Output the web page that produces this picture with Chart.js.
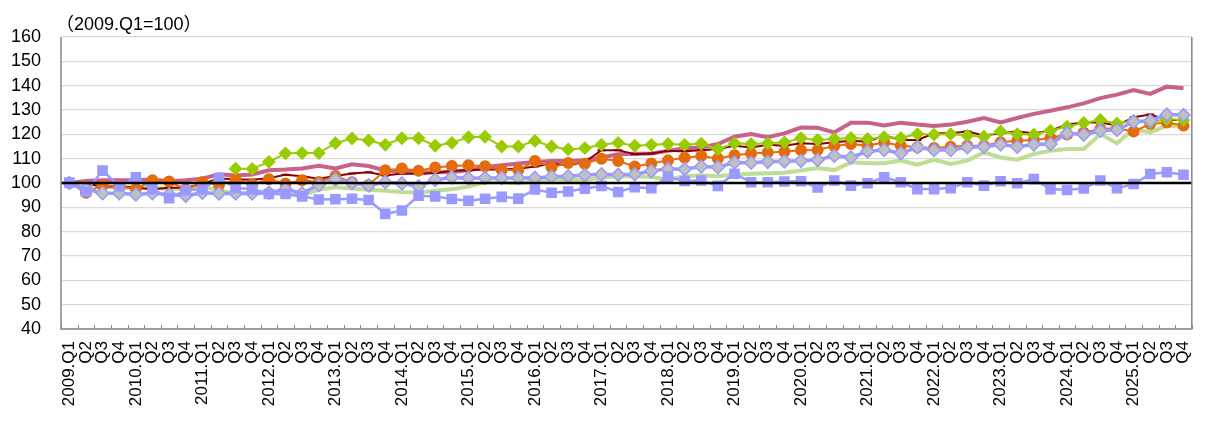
<!DOCTYPE html>
<html>
<head>
<meta charset="utf-8">
<script src="https://cdn.jsdelivr.net/npm/chart.js@4/dist/chart.umd.min.js"></script>
<style>
  body { margin: 0; background: #fff; }
  #wrap { position: relative; width: 1216px; height: 424px; }
  #note { position: absolute; left: 56px; top: 9px; font: 18px "Liberation Sans", "Noto Sans CJK JP", sans-serif; color: #000; }
</style>
</head>
<body>
<div id="wrap">
  <div id="note">（2009.Q1=100）</div>
  <canvas id="chart" width="1216" height="424"></canvas>
</div>
<script>
// 四半期ラベル
const years = ['2009', '2010', '2011', '2012', '2013', '2014', '2015', '2016', '2017', '2018', '2019', '2020', '2021', '2022', '2023', '2024', '2025'];
const quarters = ['Q1', 'Q2', 'Q3', 'Q4'];
const labels = [];
years.forEach(y => quarters.forEach(q => labels.push(q === 'Q1' ? y + '.' + q : q)));

const yTicks = { min: 40, max: 160, step: 10 };
const baseValue = 100;

// 系列データ (2009.Q1 = 100)
const pinkLine = [
  100, 100.8, 101.1, 101.1, 101.1, 101.4, 100.7, 101.1, 101.8, 103.6, 103.1, 103.5,
  105.2, 105.5, 106, 107.1, 106, 107.7, 107, 105.1, 104.7, 104.4, 104.4, 104.5,
  105.2, 106.6, 107.3, 108, 108.6, 109, 109, 109.4, 110.5, 111.8, 112, 112.1,
  113.2, 114.3, 114.6, 116, 119, 120.1, 118.8, 120.4, 122.8, 122.7, 120.8, 124.8,
  124.8, 123.6, 124.8, 124, 123.4, 124, 125.2, 126.7, 124.9, 126.7, 128.4, 129.7,
  131.1, 132.7, 134.9, 136.3, 138.2, 136.6, 139.6, 138.9
];
const greenDiamond = [
  null, null, null, null, null, null, null, null, null, null, 105.9, 105.8,
  108.7, 112.2, 112.3, 112.3, 116.4, 118.3, 117.5, 115.7, 118.4, 118.4, 115.3, 116.5,
  118.8, 119, 115, 115, 117.3, 115, 113.8, 114.3, 115.7, 116.5, 115.3, 115.7,
  116, 115.7, 116.2, 113.9, 116.3, 116, 116.3, 116.7, 118.4, 117.7, 118.1, 118.5,
  118.1, 118.8, 118.5, 120.1, 119.9, 120.1, 119.5, 119, 121.2, 120.1, 119.9, 121.5,
  123.2, 124.7, 125.9, 124.5, 125.6, 124.9, 126.3, 125.9
];
const orangeCircle = [
  100, 96, 99, 98.7, 97.5, 101.1, 100.6, 97.3, 100.4, 99.2, 101.3, 99.5,
  101.5, 99.8, 101.1, 100.4, 102.9, 100.3, 99.2, 105.2, 106, 105, 106.4, 107,
  107.3, 106.9, 105.3, 105.3, 109, 106.5, 108.2, 107.9, 110, 109, 106.8, 108,
  109.3, 110.4, 111.1, 110.1, 111.4, 112.1, 112.5, 112.8, 113.5, 113.6, 115.2, 116,
  115.3, 116.7, 115.3, 114.7, 114.4, 114.9, 115.3, 115.3, 116.7, 117.4, 117.7, 118.5,
  119.9, 120.8, 122.2, 122.5, 121.2, 124.2, 124.9, 123.6
];
const maroonLine = [
  100, 100, 98.4, 98.8, 98, 97.4, 98, 98, 99.7, 101.8, 101.5, 101.3,
  102, 103.4, 102.8, 101.8, 102.9, 103.9, 104.4, 103.1, 103.9, 103.7, 104.1, 105,
  105.2, 105.5, 105.5, 105.9, 106.8, 108, 107.3, 108.6, 113.5, 113.5, 111.8, 112.1,
  113.2, 113, 113.5, 114, 115.3, 114.6, 115.7, 115.3, 116.3, 116, 116.7, 117.4,
  117, 119.5, 117.7, 117.7, 120.4, 120.4, 121.2, 119.5, 120.4, 121.2, 120.4, 121.5,
  124, 124.9, 124.9, 123.6, 127, 128.1, 125.9, 125.9
];
const lightGreenLine = [
  100, 99, 98.8, 97.6, 98.4, 98, 97.5, 97.7, 98.4, 97, 95.6, 96.3,
  96.5, 95.3, 95, 97.2, 98.2, 97.7, 97.2, 96.8, 96.3, 96, 96.8, 97.4,
  98.5, 100.3, 100.3, 99.9, 100.7, 101.6, 101.2, 101.2, 102.3, 102.8, 102.8, 102.5,
  101.4, 102.8, 103.2, 102.8, 103.5, 103.8, 104, 104.2, 105.1, 106.2, 105.3, 108.5,
  108.1, 108.1, 109.2, 107.5, 109.5, 107.8, 109.2, 112.6, 110.5, 109.6, 111.9, 113.3,
  114, 114, 120.1, 116.3, 122.2, 120.8, 123.6, 122.9
];
const greyDiamond = [
  100, 97.5, 95.8, 95.8, 95.3, 95.8, 95.3, 94.8, 96, 95.7, 95.7, 95.7,
  96, 97.4, 95.8, 99.2, 101.5, 100, 99, 100.3, 99.8, 98.6, 101.3, 102.3,
  102, 102.1, 102.1, 102.1, 102.1, 102.6, 102.8, 103.3, 103.6, 103.4, 103.6, 104.9,
  105.8, 105.7, 106.8, 106.5, 108.4, 108.3, 108.7, 108.9, 109.1, 109.5, 111.2, 110.5,
  113, 113.6, 112.2, 114.7, 113.6, 113.6, 114.7, 114.9, 115.8, 114.9, 115.8, 116,
  120.4, 119.9, 121.5, 121.8, 125.2, 125.6, 128.1, 127.9
];
const blueSquare = [
  100.2, 96.4, 105.1, 98.6, 102.3, 97.5, 93.8, 97, 97.5, 102, 98, 97.4,
  95.5, 95.5, 94.5, 93.2, 93.3, 93.5, 93, 87.3, 88.7, 94.8, 94.5, 93.4,
  92.7, 93.5, 94.3, 93.6, 97.3, 96, 96.5, 97.7, 98.8, 96.3, 98.3, 97.9,
  102.5, 100.8, 101, 98.8, 103.8, 100.3, 100.3, 100.6, 100.7, 98.2, 101, 98.9,
  99.9, 102.3, 100.3, 97.5, 97.5, 97.9, 100.3, 98.9, 100.7, 99.9, 101.6, 97.5,
  97.1, 97.8, 101, 97.9, 99.6, 103.7, 104.4, 103.4
];

// 100の基準線・目盛り・枠線
const framePlugin = {
  id: 'frame',
  afterDatasetsDraw(chart) {
    const { ctx, chartArea: a, scales: { x, y } } = chart;
    ctx.save();
    // 基準線
    const y100 = y.getPixelForValue(baseValue);
    ctx.strokeStyle = '#000';
    ctx.lineWidth = 2.5;
    ctx.beginPath();
    ctx.moveTo(a.left, y100);
    ctx.lineTo(a.right, y100);
    ctx.stroke();
    // 枠
    ctx.strokeStyle = '#868686';
    ctx.lineWidth = 1.5;
    ctx.beginPath();
    ctx.moveTo(a.left, a.top);
    ctx.lineTo(a.left, a.bottom);
    ctx.lineTo(a.right, a.bottom);
    ctx.lineTo(a.right, a.top);
    ctx.stroke();
    // x軸の内向き目盛り
    const step = x.getPixelForValue(1) - x.getPixelForValue(0);
    ctx.lineWidth = 1;
    ctx.beginPath();
    for (let i = 0; i <= labels.length; i++) {
      const px = Math.round(x.getPixelForValue(i) - step / 2) + 0.5;
      ctx.moveTo(px, a.bottom);
      ctx.lineTo(px, a.bottom - 4);
    }
    ctx.stroke();
    ctx.restore();
  }
};

const ctx = document.getElementById('chart').getContext('2d');
const config = {
  type: 'line',
  data: {
    labels: labels,
    datasets: [{
      data: blueSquare,
      borderColor: '#9999FF',
      backgroundColor: '#9999FF',
      borderWidth: 2.5,
      pointStyle: 'rect',
      pointRadius: 7.5,
      pointBorderWidth: 0,
      order: 1
    }, {
      data: greyDiamond,
      borderColor: '#9999FF',
      backgroundColor: '#C0C0C0',
      borderWidth: 3.5,
      pointStyle: 'rectRot',
      pointRadius: 6.5,
      pointBorderColor: '#9999FF',
      pointBorderWidth: 1.5,
      order: 2
    }, {
      data: greenDiamond,
      borderColor: '#99CC00',
      backgroundColor: '#99CC00',
      borderWidth: 2,
      pointStyle: 'rectRot',
      pointRadius: 5.5,
      order: 3
    }, {
      data: orangeCircle,
      borderColor: '#E46C0A',
      backgroundColor: '#E46C0A',
      borderWidth: 2,
      pointStyle: 'circle',
      pointRadius: 5,
      order: 4
    }, {
      data: maroonLine,
      borderColor: '#8B0000',
      backgroundColor: '#8B0000',
      borderWidth: 2,
      pointStyle: 'line',
      pointRadius: 4,
      pointBorderWidth: 2,
      order: 5
    }, {
      data: pinkLine,
      borderColor: '#C8628A',
      borderWidth: 4,
      pointRadius: 0,
      order: 6
    }, {
      data: lightGreenLine,
      borderColor: '#BFDE94',
      borderWidth: 4,
      pointRadius: 0,
      order: 7
    }]
  },
  options: {
    responsive: false,
    animation: false,
    events: [],
    layout: { padding: { top: 37, right: 13, left: 0, bottom: 0 } },
    elements: { line: { tension: 0 } },
    scales: {
      x: {
        offset: true,
        grid: { display: false, drawTicks: false },
        border: { display: false },
        ticks: {
          autoSkip: false,
          minRotation: 90,
          maxRotation: 90,
          padding: 12,
          color: '#000',
          font: { family: '"Liberation Sans", Arial, sans-serif', size: 17 }
        },
        afterFit(scale) { scale.height = 95; }
      },
      y: {
        min: yTicks.min,
        max: yTicks.max,
        grid: { color: '#D9D9D9', lineWidth: 1.2, drawTicks: false },
        border: { display: false },
        ticks: {
          stepSize: yTicks.step,
          autoSkip: false,
          padding: 20,
          color: '#000',
          font: { family: '"Liberation Sans", Arial, sans-serif', size: 18 }
        },
        afterFit(scale) { scale.width = 61; }
      }
    },
    plugins: {
      legend: { display: false },
      tooltip: { enabled: false }
    }
  },
  plugins: [framePlugin]
};
const chart = new Chart(ctx, config);
</script>
</body>
</html>
